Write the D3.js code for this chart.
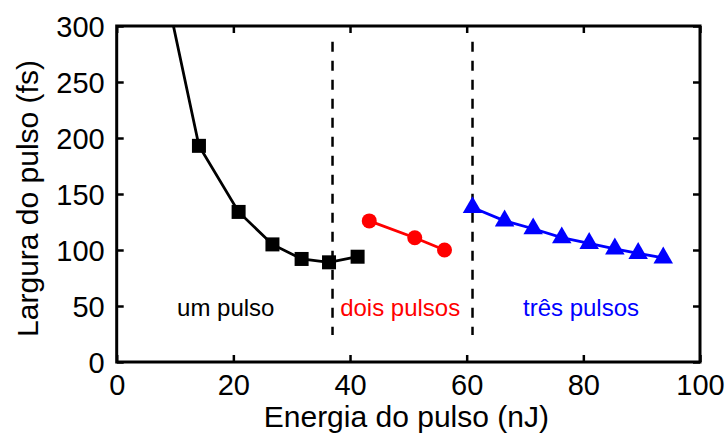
<!DOCTYPE html>
<html>
<head>
<meta charset="utf-8">
<script src="https://cdn.jsdelivr.net/npm/d3@7"></script>
<style>
  html, body { margin: 0; padding: 0; background: #fff; }
  svg { display: block; font-family: Arial, "Liberation Sans", sans-serif; }
</style>
</head>
<body>
<svg id="chart" width="728" height="435"></svg>
<script>
// Pulse width (fs) versus pulse energy (nJ) for one, two and three pulse regimes
const umPulsoEnergia   = [8.5, 14.1, 20.9, 26.7, 31.7, 36.4, 41.3];
const umPulsoLargura   = [330, 193, 134, 105, 92, 89, 94];
const doisPulsosEnergia = [43.3, 51.1, 56.2];
const doisPulsosLargura = [126, 111, 100];
const tresPulsosEnergia = [61.0, 66.5, 71.4, 76.3, 81.0, 85.4, 89.4, 93.7];
const tresPulsosLargura = [138, 126, 119, 111, 106, 101, 97, 93];
const limitesRegime = [37, 61];
const xTicks = [0, 20, 40, 60, 80, 100];
const yTicks = [0, 50, 100, 150, 200, 250, 300];
const regimeLabels = ["um pulso", "dois pulsos", "três pulsos"];
const regimeLabelX = [18.7, 48.6, 79.6];
const regimeLabelY = 41;

const svg = d3.select("#chart");
const margin = { left: 116.7, right: 28, top: 26, bottom: 73 };
const W = 728, H = 435;
const iw = W - margin.left - margin.right;
const ih = H - margin.top - margin.bottom;

const x = d3.scaleLinear().domain([0, 100]).range([0, iw]);
const y = d3.scaleLinear().domain([0, 300]).range([ih, 0]);

const g = svg.append("g").attr("transform", `translate(${margin.left},${margin.top})`);

g.append("defs").append("clipPath").attr("id", "plotClip")
  .append("rect").attr("x", 0).attr("y", 0).attr("width", iw).attr("height", ih);

// Axes: inward ticks on all four sides
const tickLen = 7;
const axBottom = g.append("g").attr("transform", `translate(0,${ih})`)
  .call(d3.axisBottom(x).tickValues(xTicks).tickSizeInner(-tickLen).tickSizeOuter(0).tickPadding(12));
const axTop = g.append("g")
  .call(d3.axisTop(x).tickValues(xTicks).tickSizeInner(-tickLen).tickSizeOuter(0).tickFormat(""));
const axLeft = g.append("g")
  .call(d3.axisLeft(y).tickValues(yTicks).tickSizeInner(-tickLen).tickSizeOuter(0).tickPadding(12));
const axRight = g.append("g").attr("transform", `translate(${iw},0)`)
  .call(d3.axisRight(y).tickValues(yTicks).tickSizeInner(-tickLen).tickSizeOuter(0).tickFormat(""));

[axBottom, axTop, axLeft, axRight].forEach(a => {
  a.select(".domain").remove();
  a.selectAll(".tick line").attr("stroke", "#000").attr("stroke-width", 2.5);
  a.selectAll(".tick text").attr("fill", "#000").attr("font-size", 29)
    .attr("font-family", "Arial, 'Liberation Sans', sans-serif");
});
axBottom.selectAll(".tick text").attr("dy", "0.71em");
axLeft.selectAll(".tick text").attr("dy", "0.36em");

// Frame
g.append("rect").attr("x", 0).attr("y", 0).attr("width", iw).attr("height", ih)
  .attr("fill", "none").attr("stroke", "#000").attr("stroke-width", 3);

// Regime boundaries
g.selectAll(".limite").data(limitesRegime).enter().append("line")
  .attr("x1", d => x(d)).attr("x2", d => x(d))
  .attr("y1", y(286)).attr("y2", y(24))
  .attr("stroke", "#000").attr("stroke-width", 2.5).attr("stroke-dasharray", "10,9");

const plot = g.append("g").attr("clip-path", "url(#plotClip)");
const line = d3.line().x(d => x(d[0])).y(d => y(d[1]));

function series(xs, ys, color) {
  const pts = xs.map((v, i) => [v, ys[i]]);
  plot.append("path").datum(pts).attr("d", line)
    .attr("fill", "none").attr("stroke", color).attr("stroke-width", 2.8);
  return pts;
}

// um pulso: squares
const p1 = series(umPulsoEnergia, umPulsoLargura, "#000");
plot.selectAll(".sq").data(p1.slice(1)).enter().append("rect")
  .attr("x", d => x(d[0]) - 7).attr("y", d => y(d[1]) - 7)
  .attr("width", 14).attr("height", 14).attr("fill", "#000");

// dois pulsos: circles
const p2 = series(doisPulsosEnergia, doisPulsosLargura, "#ff0000");
plot.selectAll(".ci").data(p2).enter().append("circle")
  .attr("cx", d => x(d[0])).attr("cy", d => y(d[1])).attr("r", 7.5).attr("fill", "#ff0000");

// três pulsos: triangles
const p3 = series(tresPulsosEnergia, tresPulsosLargura, "#0000ff");
const tri = d3.symbol().type(d3.symbolTriangle).size(165);
plot.selectAll(".tr").data(p3).enter().append("path")
  .attr("d", tri)
  .attr("transform", d => `translate(${x(d[0])},${y(d[1])})`)
  .attr("fill", "#0000ff");

// Regime labels
const labelColors = ["#000", "#ff0000", "#0000ff"];
g.selectAll(".regime").data(regimeLabels).enter().append("text")
  .attr("x", (d, i) => x(regimeLabelX[i])).attr("y", y(regimeLabelY))
  .attr("text-anchor", "middle").attr("font-size", 24)
  .attr("fill", (d, i) => labelColors[i])
  .text(d => d);

// Axis titles
svg.append("text")
  .attr("x", margin.left + x(50) - 2).attr("y", 426.5)
  .attr("text-anchor", "middle").attr("font-size", 30).attr("fill", "#000")
  .text("Energia do pulso (nJ)");
svg.append("text")
  .attr("transform", `translate(38.3,${198.5}) rotate(-90)`)
  .attr("text-anchor", "middle").attr("font-size", 30).attr("fill", "#000")
  .text("Largura do pulso (fs)");
</script>
</body>
</html>
